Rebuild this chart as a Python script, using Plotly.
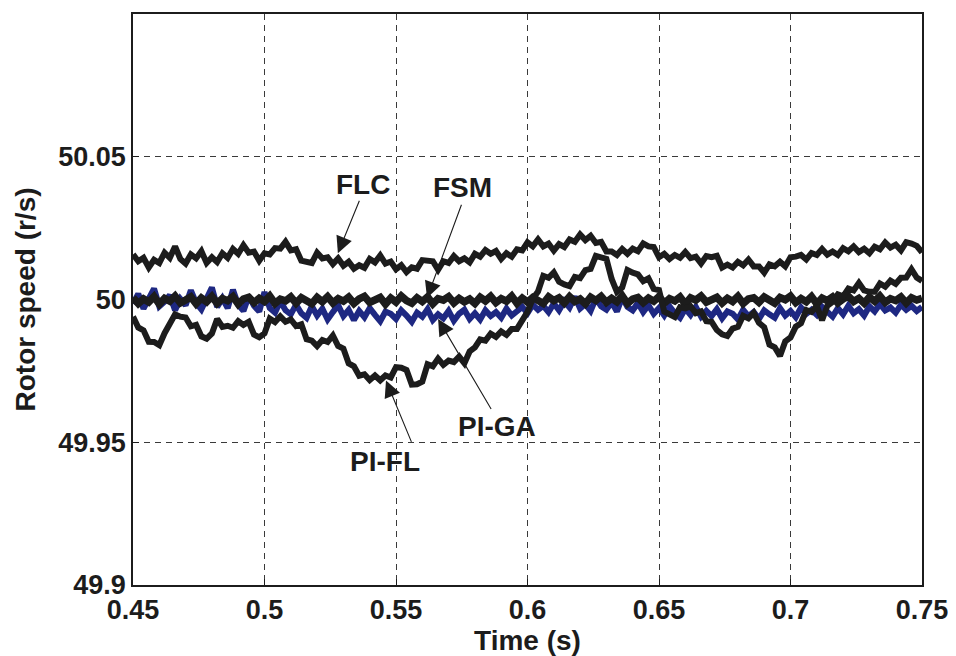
import numpy as np
import plotly.graph_objects as go

# Speed deviation from 50 r/s, in units of 1e-3 r/s, sampled every 2 ms from 0.45 s to 0.75 s
flc_dev = [15.8, 13.4, 14.6, 11.2, 13.9, 12.8, 16.4, 14.6, 18.6, 14.2,
           12.6, 15.8, 14.4, 16.9, 12.8, 14.8, 13.1, 16.2, 14.6, 17.7,
           16.0, 19.0, 16.4, 16.8, 13.6, 16.2, 15.8, 18.0, 17.8, 20.2,
           17.2, 17.6, 13.6, 13.2, 12.8, 16.4, 14.4, 14.8, 12.4, 14.4,
           11.8, 13.2, 10.8, 12.0, 11.1, 14.2, 13.0, 15.4, 12.6, 13.3,
           10.6, 12.0, 9.6, 11.3, 10.8, 13.8, 13.6, 13.4, 10.4, 13.4,
           12.8, 15.2, 13.4, 14.4, 13.0, 16.0, 15.0, 17.3, 16.0, 17.0,
           14.2, 16.2, 15.0, 17.6, 17.2, 20.0, 18.6, 21.0, 18.6, 19.6,
           17.1, 19.4, 18.4, 21.0, 20.2, 22.8, 20.8, 22.3, 19.8, 20.2,
           16.8, 16.8, 15.6, 17.7, 16.0, 17.8, 16.9, 19.6, 18.6, 18.4,
           14.8, 16.0, 14.2, 15.6, 14.6, 16.6, 14.5, 15.0, 12.6, 15.2,
           14.8, 15.3, 11.2, 12.2, 11.2, 13.2, 12.0, 14.0, 11.6, 11.6,
           9.4, 12.3, 11.6, 13.2, 11.6, 14.8, 15.0, 15.6, 14.0, 16.3,
           15.6, 17.7, 15.7, 16.8, 15.6, 18.0, 16.9, 18.6, 16.6, 17.8,
           16.2, 18.5, 17.6, 20.0, 18.2, 19.2, 17.2, 20.1, 19.6, 18.8,
           16.5]

pifl_dev = [-6.0, -9.8, -10.8, -14.8, -14.9, -16.0, -11.8, -8.3, -5.2, -6.0,
            -6.3, -9.4, -8.9, -12.9, -13.7, -11.9, -6.8, -9.6, -9.2, -9.9,
            -7.6, -8.9, -7.8, -12.3, -13.2, -11.9, -6.7, -7.9, -5.9, -7.8,
            -7.0, -9.3, -8.7, -13.9, -14.4, -16.3, -14.2, -14.9, -12.6, -16.3,
            -17.2, -22.4, -23.4, -26.7, -26.2, -28.2, -26.6, -28.3, -26.6, -27.3,
            -23.7, -23.9, -24.7, -29.8, -29.7, -28.8, -22.7, -23.4, -20.7, -22.9,
            -21.4, -21.9, -20.0, -22.3, -18.2, -16.8, -14.0, -14.4, -12.0, -13.1,
            -11.2, -12.4, -10.3, -10.3, -7.0, -4.3, 0.3, 2.8, 8.3, 7.6,
            9.5, 6.2, 5.3, 4.7, 7.9, 7.5, 10.3, 10.7, 15.3, 14.6,
            14.2, 7.2, 2.7, 4.2, 10.3, 9.4, 8.8, 6.4, 7.4, 3.7,
            3.3, -4.3, -5.0, -6.1, -2.7, -3.1, -2.4, -4.8, -4.2, -7.6,
            -7.8, -10.7, -12.2, -12.8, -10.2, -9.6, -5.7, -6.6, -4.7, -8.2,
            -9.7, -15.8, -16.7, -19.8, -14.7, -13.3, -9.5, -8.3, -3.7, -4.4,
            -2.2, -7.3, -2.2, -0.8, 1.8, 1.1, 3.8, 3.2, 5.8, 3.2,
            2.7, 2.7, 5.6, 4.5, 6.6, 5.5, 7.6, 7.7, 10.6, 7.7,
            6.5]

fsm_dev = [0.6, -1.4, 0.2, -0.9, 1.0, -1.6, 0.4, -0.6, 1.2, -1.2,
           -0.2, 0.9, -1.5, 0.5, -0.8, 1.1, -1.3, 0.3, -0.4, 1.0,
           -1.6, 0.2, 0.8, -1.1, 0.4, -0.7, 1.2, -1.4, 0.1, -0.5,
           0.9, -1.3, 0.6, -0.2, -1.5, 0.7, -0.8, 1.0, -1.2, 0.3,
           -0.6, 0.8, -1.4, 0.2, 1.1, -1.0, -0.3, 0.7, -1.6, 0.5,
           -0.9, 1.2, -0.4, -1.3, 0.6, -0.7, 0.9, -1.5, 0.3, -0.2,
           1.0, -1.2, 0.4, -0.8, 0.2, -1.4, 0.8, -0.5, 1.1, -1.1,
           0.3, -0.6, 1.2, -1.3, 0.5, -0.9, 0.7, -0.1, -1.4, 0.9,
           -0.4, 0.6, -1.2, 1.0, -0.7, 0.2, -1.5, 0.8, -0.3, 1.1,
           -1.0, 0.4, -0.8, 1.3, -1.4, 0.1, 0.7, -1.1, 0.5, -0.6,
           1.0, -1.3, 0.3, -0.5, 0.9, -1.6, 0.6, -0.2, 1.2, -0.9,
           -0.3, 0.8, -1.2, 0.4, -0.7, 1.1, -1.4, 0.2, 0.6, -1.0,
           0.9, -0.5, -1.3, 0.7, -0.1, 1.2, -1.1, 0.3, -0.8, 1.0,
           -1.5, 0.5, -0.4, 0.9, -1.2, 0.2, 1.1, -0.7, 0.4, -1.3,
           0.8, -0.6, 1.2, -1.0, 0.3, -0.4, 0.9, -1.2, 0.6, -0.2,
           0.4]

piga_dev = [-1.5, 2.0, -3.2, 0.5, 3.8, -2.4, -0.8, 1.5, -3.8, 0.2,
            -2.0, 3.2, -1.2, -3.5, 0.8, 4.2, -2.6, 0.4, -3.0, 3.4,
            -1.8, -4.0, 1.2, -2.2, -4.2, 2.6, -3.0, -4.6, -0.6, -3.8,
            -5.2, -1.8, -4.8, -6.4, -2.4, -5.6, -3.2, -7.0, -4.4, -2.0,
            -5.8, -3.6, -7.2, -4.0, -6.2, -3.0, -5.4, -7.6, -4.2, -5.0,
            -6.8, -3.8, -5.6, -7.8, -4.6, -6.0, -3.4, -7.2, -5.2, -6.6,
            -4.0, -7.4, -5.0, -3.6, -6.8, -4.8, -7.0, -3.8, -5.8, -4.4,
            -6.4, -3.2, -5.6, -4.0, -2.6, -4.8, -1.8, -3.6, -2.2, -4.4,
            -1.4, -3.8, -0.6, -2.8, 1.0, -3.2, -1.6, -4.0, 0.4, -2.4,
            -3.6, -1.0, -4.2, 0.8, -2.6, -3.8, -1.2, -4.4, -2.0, -5.0,
            -3.0, -5.6, -2.4, -4.8, -6.4, -3.2, -5.4, -2.6, -6.0, -4.0,
            -5.8, -3.4, -6.6, -4.2, -5.0, -7.0, -3.6, -5.8, -4.4, -6.8,
            -3.8, -5.2, -6.4, -3.0, -5.6, -4.0, -6.2, -2.8, -5.0, -3.6,
            -5.4, -2.6, -4.6, -6.0, -3.0, -5.2, -2.2, -4.8, -3.4, -5.6,
            -2.4, -4.2, -1.6, -3.8, -2.8, -4.6, -1.8, -3.6, -2.2, -4.0,
            -2.6]

nominal_speed = 50.0
t_start, t_end = 0.45, 0.75

x_ticks = [0.45, 0.5, 0.55, 0.6, 0.65, 0.7, 0.75]
x_ticklabels = ["0.45", "0.5", "0.55", "0.6", "0.65", "0.7", "0.75"]
y_ticks = [49.9, 49.95, 50.0, 50.05]
y_ticklabels = ["49.9", "49.95", "50", "50.05"]

# annotation label positions (text centre, arrow tail, arrow tip) in data units
labels = ["FLC", "FSM", "PI-GA", "PI-FL"]
label_x = [0.5375, 0.5751, 0.5884, 0.5458]
label_y = [50.0403, 50.0393, 49.9555, 49.9433]
tail_x = [0.5363, 0.5751, 0.5865, 0.5561]
tail_y = [50.0351, 50.0337, 49.9611, 49.9496]
tip_x = [0.5279, 0.5618, 0.5660, 0.5462]
tip_y = [50.0162, 50.0005, 49.9932, 49.9716]


def speed(dev):
    return [nominal_speed + d / 1000.0 for d in dev]


t = np.linspace(t_start, t_end, len(flc_dev))

BLACK = "#1c1c1c"
BLUE = "#1e2882"
FONT = "Liberation Sans, Arial, sans-serif"
LW = 6

fig = go.Figure()
fig.add_trace(go.Scatter(x=t, y=speed(piga_dev), mode="lines", name="PI-GA",
                         line=dict(color=BLUE, width=LW)))
fig.add_trace(go.Scatter(x=t, y=speed(fsm_dev), mode="lines", name="FSM",
                         line=dict(color=BLACK, width=7.5)))
fig.add_trace(go.Scatter(x=t, y=speed(pifl_dev), mode="lines", name="PI-FL",
                         line=dict(color=BLACK, width=LW)))
fig.add_trace(go.Scatter(x=t, y=speed(flc_dev), mode="lines", name="FLC",
                         line=dict(color=BLACK, width=LW)))

for i, lab in enumerate(labels):
    fig.add_annotation(x=label_x[i], y=label_y[i], text="<b>%s</b>" % lab,
                       showarrow=False, xref="x", yref="y",
                       font=dict(family=FONT, size=28, color=BLACK))
    fig.add_annotation(x=tip_x[i], y=tip_y[i], ax=tail_x[i], ay=tail_y[i],
                       xref="x", yref="y", axref="x", ayref="y", text="",
                       showarrow=True, arrowhead=2, arrowsize=3,
                       arrowwidth=1.1, arrowcolor=BLACK)

axis_common = dict(
    showline=True, linecolor=BLACK, linewidth=1.5, mirror=True,
    showgrid=True, gridcolor="#3a3a3a", gridwidth=1, griddash="6px,5px",
    ticks="inside", ticklen=6, tickcolor=BLACK, zeroline=False,
    tickfont=dict(family=FONT, size=27, color=BLACK, weight="bold"),
)

fig.update_xaxes(range=[t_start, t_end], tickvals=x_ticks, ticktext=x_ticklabels,
                 title=dict(text="<b>Time (s)</b>", standoff=3,
                            font=dict(family=FONT, size=28, color=BLACK)),
                 **axis_common)
fig.update_yaxes(range=[49.9, 50.1], tickvals=y_ticks, ticktext=y_ticklabels,
                 title=dict(text="<b>Rotor speed (r/s)</b>", standoff=14,
                            font=dict(family=FONT, size=28, color=BLACK)),
                 **axis_common)

# the page body adds an 8 px offset, so the figure is sized to fit the window
fig.update_layout(width=948, height=648, showlegend=False,
                  margin=dict(l=125, r=34, t=4, b=71),
                  paper_bgcolor="white", plot_bgcolor="white")

fig.write_html("out.html")
